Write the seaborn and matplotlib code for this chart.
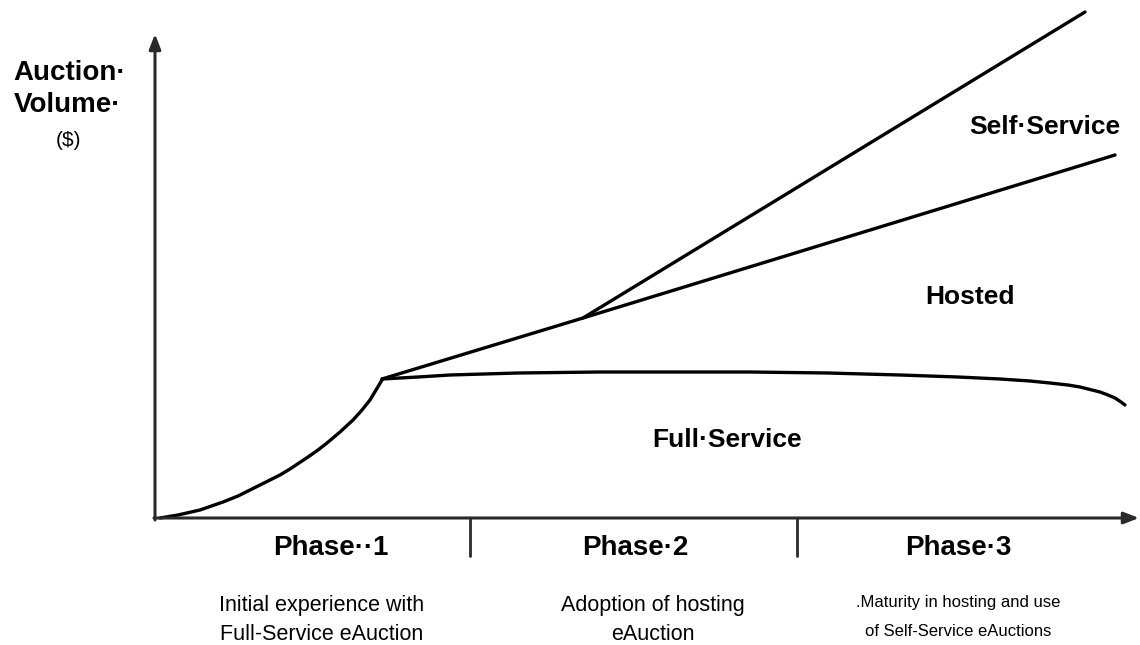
import numpy as np
import pandas as pd
import matplotlib
matplotlib.use("Agg")
import matplotlib.pyplot as plt
import seaborn as sns

# chart units: x = time from origin, y = auction volume above baseline
phase1_x = [2, 20, 42, 65, 80, 92, 110, 122, 132, 150, 160, 169, 182, 195, 204, 212, 218, 224]
phase1_y = [0, 3, 8, 16, 22, 28, 37, 43, 49, 61, 68, 75, 86, 98, 108, 118, 128, 138]

full_x = [224, 260, 292, 360, 442, 520, 592, 670, 742, 800, 842, 872, 892, 910, 922, 934, 942, 950, 957, 963, 967]
full_y = [139, 141, 143, 145, 146, 146, 146, 145, 143, 141, 139, 137, 135, 133, 131, 128, 126, 123, 120, 116, 113]

hosted_x = [224, 425, 957]
hosted_y = [139, 200, 363]

self_x = [425, 927]
self_y = [200, 506]

phase_names = ["Phase\u00b7\u00b71", "Phase\u00b72", "Phase\u00b73"]
phase_centers = [173, 477, 800]
phase_bounds = [312, 639]
phase_notes = [
    ["Initial experience with", "Full-Service eAuction"],
    ["Adoption of hosting", "eAuction"],
    [".Maturity in hosting and use", "of Self-Service eAuctions"],
]
note_centers = [164, 495, 800]

region_labels = ["Self\u00b7Service", "Hosted", "Full\u00b7Service"]
region_x = [887, 812, 569]
region_y = [391, 221, 78]

sns.set_style("white")
plt.rcParams['font.family'] = ['Liberation Sans', 'DejaVu Sans']
plt.rcParams['text.color'] = 'black'

fig = plt.figure(figsize=(11.4, 6.45), dpi=100)
ax = fig.add_axes([0, 0, 1, 1])
ax.set_xlim(-158, 982)
ax.set_ylim(-127, 518)
ax.axis("off")

curves = [(phase1_x, phase1_y), (full_x, full_y), (hosted_x, hosted_y), (self_x, self_y)]
for xs, ys in curves:
    df = pd.DataFrame({"x": xs, "y": ys})
    sns.lineplot(data=df, x="x", y="y", ax=ax, color="black", lw=2.4,
                 sort=False, estimator=None)

# axes with arrows
axis_col = "#2a2a2a"
arrow = dict(arrowstyle="-|>,head_length=0.9,head_width=0.35",
             color=axis_col, lw=2.2, shrinkA=0, shrinkB=0)
ax.annotate("", xy=(-3, 484), xytext=(-3, -2), arrowprops=arrow, annotation_clip=False)
ax.annotate("", xy=(981, 0), xytext=(-4, 0), arrowprops=arrow, annotation_clip=False)
for b in phase_bounds:
    ax.plot([b, b], [0, -38], color=axis_col, lw=2.0)

# y axis title
ax.text(-88, 445, "Auction\u00b7", fontsize=20, fontweight="bold", ha="center", va="center")
ax.text(-91, 413, "Volume\u00b7", fontsize=20, fontweight="bold", ha="center", va="center")
ax.text(-90, 377, "($)", fontsize=15, ha="center", va="center")

for name, cx in zip(phase_names, phase_centers):
    ax.text(cx, -30, name, fontsize=20, fontweight="bold", ha="center", va="center")

for lines, cx in zip(phase_notes, note_centers):
    small = lines[0].startswith(".")
    fs = 12 if small else 15.5
    y0 = -85 if small else -88
    ax.text(cx, y0, lines[0], fontsize=fs, ha="center", va="center")
    ax.text(cx, y0 - 28, lines[1], fontsize=fs, ha="center", va="center")

for lab, rx, ry in zip(region_labels, region_x, region_y):
    ax.text(rx, ry, lab, fontsize=19, fontweight="bold", ha="center", va="center")

fig.savefig("out.png", dpi=100)
